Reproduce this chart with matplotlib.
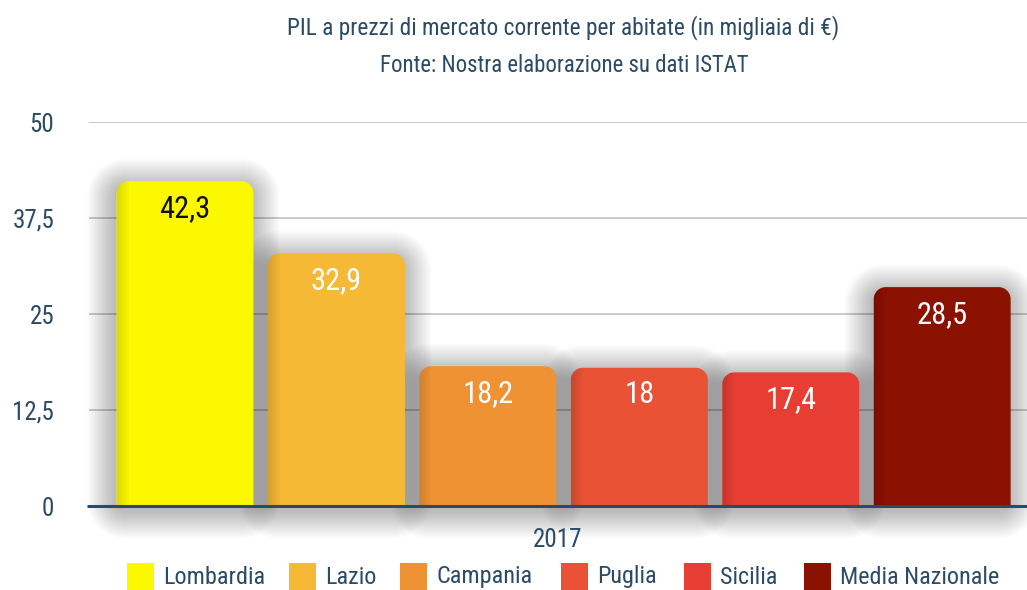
import matplotlib
matplotlib.use("Agg")
import matplotlib.pyplot as plt
from matplotlib import font_manager
from matplotlib.path import Path
from matplotlib.patches import PathPatch, Rectangle

# ---------------- data ----------------
categories = ["Lombardia", "Lazio", "Campania", "Puglia", "Sicilia", "Media Nazionale"]
values = [42.3, 32.9, 18.2, 18.0, 17.4, 28.5]
value_labels = ["42,3", "32,9", "18,2", "18", "17,4", "28,5"]
colors = ["#FCF800", "#F5B935", "#EF9234", "#E95235", "#E63E33", "#8B1100"]
label_colors = ["#111111", "white", "white", "white", "white", "white"]
yticks = [0, 12.5, 25, 37.5, 50]
ytick_labels = ["0", "12,5", "25", "37,5", "50"]
group_label = "2017"
title1 = "PIL a prezzi di mercato corrente per abitate (in migliaia di €)"
title2 = "Fonte: Nostra elaborazione su dati ISTAT"

# ---------------- fonts ----------------
names = {f.name for f in font_manager.fontManager.ttflist}
narrow = None
for cand in ["Liberation Sans Narrow", "Roboto Condensed", "Open Sans Condensed", "Noto Sans Display"]:
    if cand in names:
        narrow = cand
        break
fam = [narrow, "DejaVu Sans"] if narrow else ["Roboto", "DejaVu Sans"]
plt.rcParams["font.family"] = fam
TXT = "#2B4A66"

W, H = 1027, 590
fig = plt.figure(figsize=(W / 100, H / 100), dpi=100)
fig.patch.set_facecolor("white")
left_px, right_px, zero_px, top_px = 89, 1027, 506, 122
ax = fig.add_axes([left_px / W, 1 - zero_px / H, (right_px - left_px) / W, (zero_px - top_px) / H])
ax.set_xlim(-0.634, 5.56)
ax.set_ylim(0, 50)
for s in ax.spines.values():
    s.set_visible(False)

pxx = (right_px - left_px) / (5.56 + 0.634)   # pixels per x unit
pxy = (zero_px - top_px) / 50.0               # pixels per y unit

K = 0.5523


def rrect(x0, x1, y0, y1, rxt, ryt, rxb, ryb):
    v = [(x0 + rxb, y0), (x1 - rxb, y0),
         (x1 - rxb + K * rxb, y0), (x1, y0 + ryb - K * ryb), (x1, y0 + ryb),
         (x1, y1 - ryt),
         (x1, y1 - ryt + K * ryt), (x1 - rxt + K * rxt, y1), (x1 - rxt, y1),
         (x0 + rxt, y1),
         (x0 + rxt - K * rxt, y1), (x0, y1 - ryt + K * ryt), (x0, y1 - ryt),
         (x0, y0 + ryb),
         (x0, y0 + ryb - K * ryb), (x0 + rxb - K * rxb, y0), (x0 + rxb, y0),
         (x0 + rxb, y0)]
    c = [Path.MOVETO, Path.LINETO,
         Path.CURVE4, Path.CURVE4, Path.CURVE4,
         Path.LINETO,
         Path.CURVE4, Path.CURVE4, Path.CURVE4,
         Path.LINETO,
         Path.CURVE4, Path.CURVE4, Path.CURVE4,
         Path.LINETO,
         Path.CURVE4, Path.CURVE4, Path.CURVE4,
         Path.CLOSEPOLY]
    return Path(v, c)


# gridlines
for t in yticks[1:]:
    ax.axhline(t, color="#C6C6C6", lw=1.3, zorder=0.5)

bw = 0.904
r = 12
xs = list(range(len(values)))
# soft shadows
for x, v in zip(xs, values):
    x0, x1 = x - bw / 2, x + bw / 2
    for d in range(0, 28, 2):
        dx, dy = d / pxx, d / pxy
        rr = r + d
        p = rrect(x0 - dx - 3 / pxx, x1 + dx, -6 / pxy - dy, v + dy - 4 / pxy,
                  rr / pxx, rr / pxy, rr / pxx, rr / pxy)
        ax.add_patch(PathPatch(p, facecolor="black", edgecolor="none", alpha=0.018,
                               zorder=1, clip_on=False))
# bars
for x, v, c, lab, lc in zip(xs, values, colors, value_labels, label_colors):
    x0, x1 = x - bw / 2, x + bw / 2
    p = rrect(x0, x1, 0, v, r / pxx, r / pxy, 0, 0)
    bar = PathPatch(p, facecolor=c, edgecolor="none", zorder=2)
    ax.add_patch(bar)
    # subtle left-edge shading
    for k in range(6):
        sh = Rectangle((x0, 0), (2 + 2 * k) / pxx, v, facecolor="black", edgecolor="none",
                       alpha=0.02, zorder=2.1)
        ax.add_patch(sh)
        sh.set_clip_path(bar)
    ax.annotate(lab, (x, v), xytext=(0, -19.5), textcoords="offset points",
                ha="center", va="center", fontsize=22, color=lc, zorder=4)

# baseline
ax.plot([-0.634 - 2 / pxx, 5.56], [0, 0], color="#2B4A66", lw=2.2, zorder=3,
        solid_capstyle="butt", clip_on=False)

ax.set_yticks(yticks)
ax.set_yticklabels(ytick_labels)
ax.tick_params(axis="y", length=0, pad=25, labelsize=18, labelcolor=TXT)
ax.set_xticks([(-0.634 + 5.56) / 2])
ax.set_xticklabels([group_label])
ax.tick_params(axis="x", length=0, pad=16, labelsize=18, labelcolor=TXT)

fig.text(563.5 / W, 1 - 28 / H, title1, ha="center", va="center", fontsize=16.8, color=TXT)
fig.text(564 / W, 1 - 66 / H, title2, ha="center", va="center", fontsize=16.4, color=TXT)

# legend (manual, horizontal)
sq_x = [127, 289, 400, 561, 684, 804]
for sx, c, name in zip(sq_x, colors, categories):
    fig.patches.append(Rectangle((sx / W, 1 - 590 / H), 27 / W, 27 / H, transform=fig.transFigure,
                                 facecolor=c, edgecolor="none"))
    fig.text((sx + 36) / W, 1 - 577 / H, name, ha="left", va="center", fontsize=17.4, color=TXT)

fig.savefig("out.png", dpi=100, facecolor="white")
